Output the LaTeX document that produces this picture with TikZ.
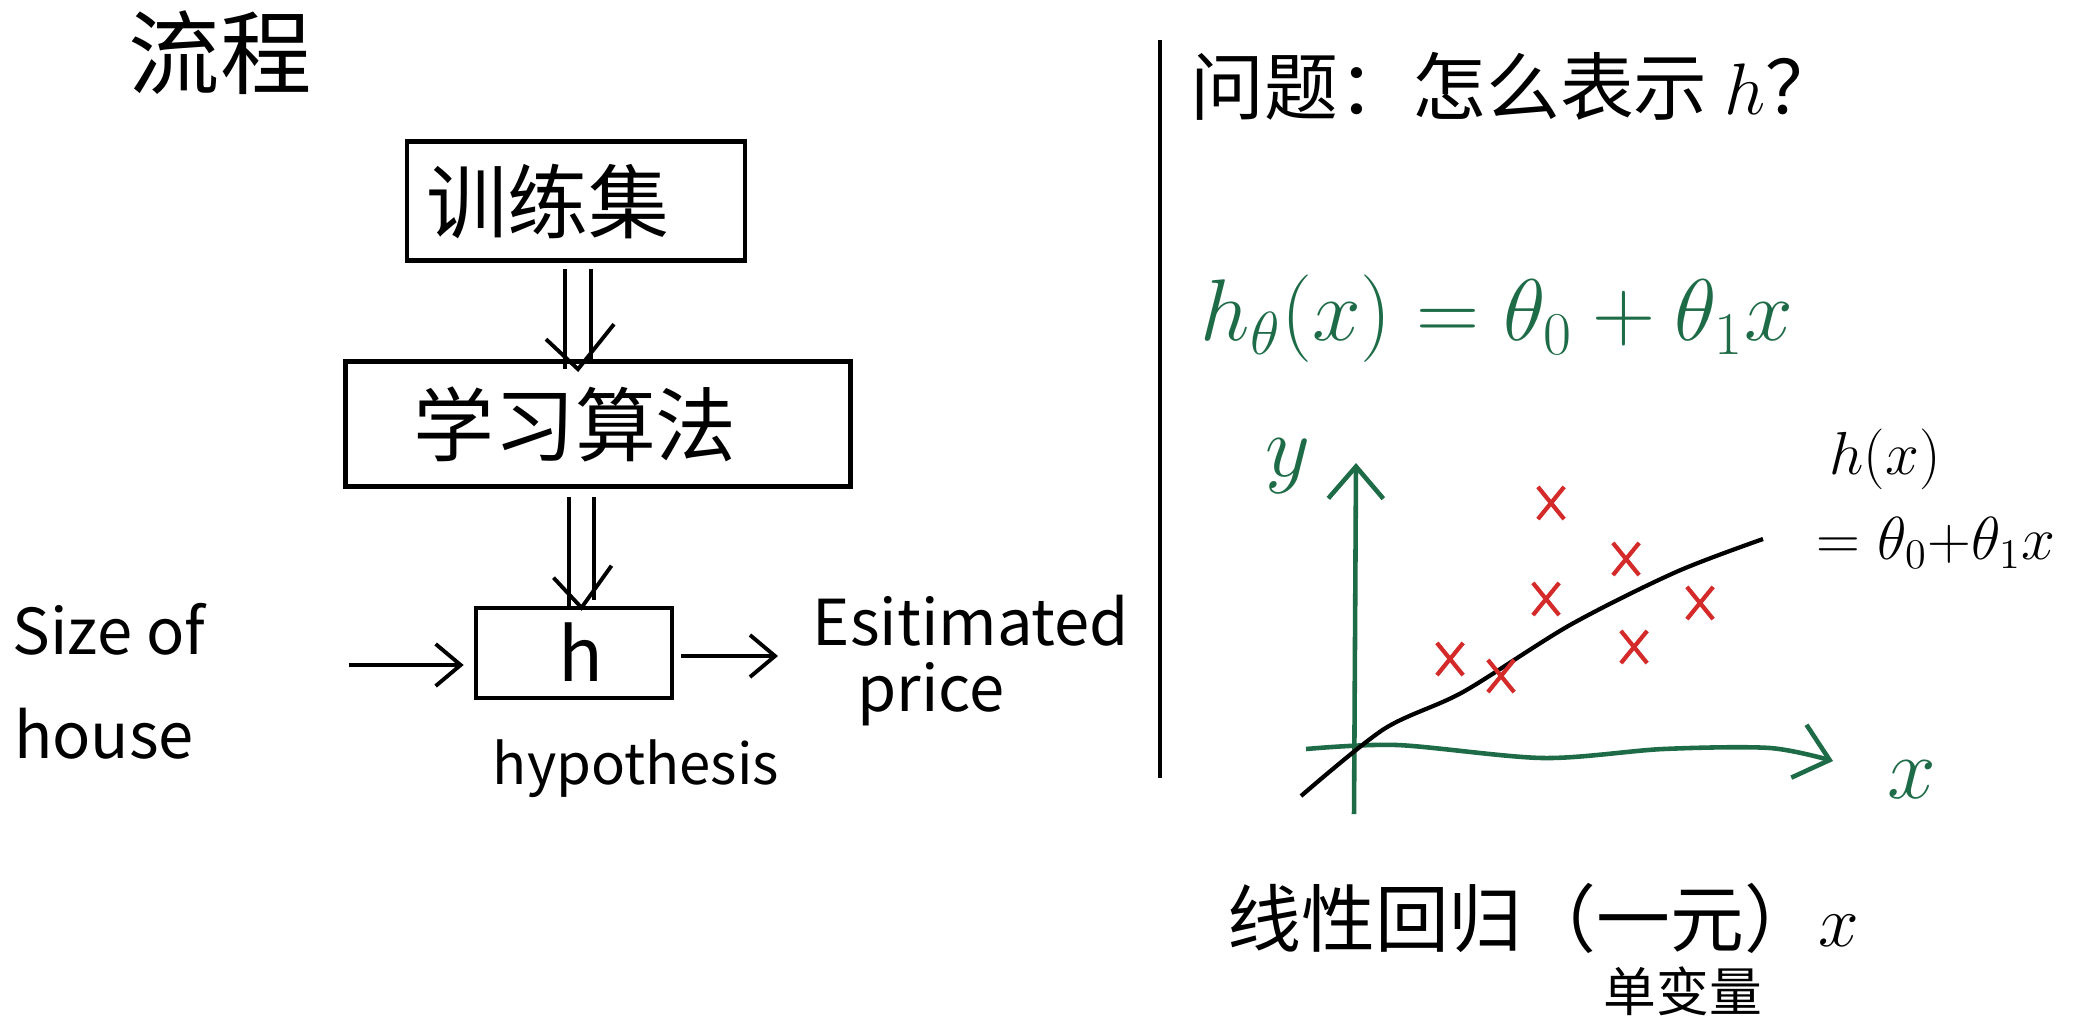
\documentclass[tikz,border=0pt]{standalone}
\usepackage{fontspec}
\setmainfont{Noto Sans CJK SC}
\usetikzlibrary{arrows.meta,shapes.misc,calc}
\definecolor{pengreen}{HTML}{1E6B47}
\definecolor{penred}{HTML}{D42A2A}
\begin{document}
\begin{tikzpicture}[x=0.01cm,y=-0.01cm,
  box/.style={draw,line width=1.3pt,inner sep=0pt},
  lbl/.style={inner sep=0pt,anchor=center},
  flow/.style={line width=1.1pt},
  barb/.style={line width=1.1pt,-{Straight Barb[length=0.25cm,width=0.42cm,line width=1.1pt]}},
  axisbarb/.style={line width=1.3pt,-{Straight Barb[length=0.32cm,width=0.55cm,line width=1.3pt]}},
  ptmark/.style={cross out,draw=penred,line width=1.2pt,minimum width=0.22cm,minimum height=0.28cm,inner sep=0pt},
  fs/.style={font=\fontsize{#1}{#1}\selectfont}
]
\useasboundingbox (0,0) rectangle (2086,1030);

% ---- left: flow ----
\node[lbl,fs=26] (title) at (220,53) {流程};
\node[box,minimum width=3.38cm,minimum height=1.19cm] (train) at (576,201) {};
\node[lbl,fs=23] (traintext) at (548,202) {训练集};
\node[box,minimum width=5.05cm,minimum height=1.25cm] (learn) at (598,424) {};
\node[lbl,fs=23] (learntext) at (575,424) {学习算法};
\node[box,minimum width=1.96cm,minimum height=0.90cm] (hbox) at (574,653) {};
\node[lbl,fs=21] (htext) at (581,652) {h};

% double arrow train -> learn
\coordinate (a1L) at ($(train.south)+(-11,6)$);
\coordinate (a1R) at ($(train.south)+(15,6)$);
\coordinate (a1M) at ($(a1L)!0.5!(a1R)$);
\coordinate (a1T) at ($(a1M |- learn.north)+(0,10)$);
\draw[flow] (a1L) -- ($(a1L |- learn.north)+(0,10)$);
\draw[flow] (a1R) -- ($(a1R |- learn.north)+(0,2)$);
\draw[flow] ($(a1T)+(-32,-30)$) -- (a1T) -- ($(a1T)+(36,-45)$);

% double arrow learn -> h
\coordinate (a2L) at ($(learn.south)+(-29,8)$);
\coordinate (a2R) at ($(learn.south)+(-4,8)$);
\coordinate (a2M) at ($(a2L)!0.5!(a2R)$);
\coordinate (a2T) at ($(a2M |- hbox.north)+(0,2)$);
\draw[flow] (a2L) -- ($(a2L |- hbox.north)+(0,3)$);
\draw[flow] (a2R) -- ($(a2R |- hbox.north)+(0,-6)$);
\draw[flow] ($(a2T)+(-28,-30)$) -- (a2T) -- ($(a2T)+(30,-42)$);

% input / output
\node[lbl,fs=18] (size1) at (109,629) {Size of};
\node[lbl,fs=18] (size2) at (104,734) {house};
\coordinate (inS) at (349,665);
\draw[barb] (inS) -- ($(hbox.west)+(-10,12)$);
\coordinate (outE) at (778,656);
\draw[barb] ($(hbox.east)+(7,3)$) -- (outE);
\node[lbl,fs=18] (est1) at (971,621) {Esitimated};
\node[lbl,fs=18] (est2) at (931,694) {price};
\node[lbl,fs=16] (hyp) at (636,769) {hypothesis};

% divider
\draw[line width=1.2pt] (1160,40) -- (1160,778);

% ---- right ----
\node[lbl,fs=21] (question) at (1515,86) {问题：怎么表示 $h$？};
\node[lbl,fs=24,text=pengreen] (formula) at (1497,319) {$h_\theta(x) = \theta_0 + \theta_1 x$};

% axes
\draw[axisbarb,pengreen] (1354,814) -- (1356,463);
\draw[axisbarb,pengreen] plot[smooth] coordinates {(1306,749) (1397,745) (1543,758) (1663,749) (1770,748) (1833,761)};
\node[lbl,fs=26,text=pengreen] (ylab) at (1288,466) {$y$};
\node[lbl,fs=28,text=pengreen] (xlab) at (1912,780) {$x$};

% fit line
\draw[line width=1.2pt] plot[smooth] coordinates {(1301,796) (1384,729) (1463,692) (1570,625) (1676,572) (1763,539)};
\node[lbl,fs=18] (hx1) at (1885,459) {$h(x)$};
\node[lbl,fs=18] (hx2) at (1936,543) {$=\theta_0{+}\theta_1 x$};

% data points
\node[ptmark] (p1) at (1551,503) {};
\node[ptmark] (p2) at (1626,559) {};
\node[ptmark] (p3) at (1546,599) {};
\node[ptmark] (p4) at (1700,603) {};
\node[ptmark] (p5) at (1450,659) {};
\node[ptmark] (p6) at (1501,676) {};
\node[ptmark] (p7) at (1634,647) {};

\node[lbl,fs=21] (linreg) at (1543,918) {线性回归（一元）$x$};
\node[lbl,fs=15] (uni) at (1683,991) {单变量};
\end{tikzpicture}
\end{document}
